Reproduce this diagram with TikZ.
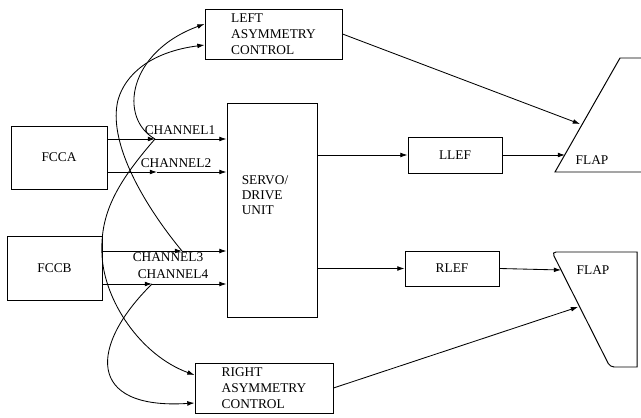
\documentclass[tikz,border=0pt]{standalone}
\usepackage{fontspec}
\setmainfont{Liberation Serif}
\usetikzlibrary{arrows.meta, calc}

\begin{document}
\begin{tikzpicture}[x=0.25mm, y=-0.25mm,
    box/.style={draw, line width=0.7pt, inner sep=0pt, align=left,
      font=\fontsize{9.5}{11.4}\selectfont},
    arr/.style={line width=0.6pt, -{Latex[length=1.8mm, width=1.2mm]}},
    lbl/.style={inner sep=0pt, align=left, font=\fontsize{9.5}{10.5}\selectfont}]
  \useasboundingbox (0,0) rectangle (641,418);

  % Rechner, Stellantrieb, Regler
  \node[box, minimum width=24mm, minimum height=15.75mm] (fcca) at (59,157.5) {FCCA};
  \node[box, minimum width=23.75mm, minimum height=16mm] (fccb) at (54.5,268) {FCCB};
  \node[box, minimum width=22.5mm, minimum height=53.5mm] (servo) at (272,210) {};
  \node[lbl] (servotxt) at (265,195) {SERVO/\\DRIVE\\UNIT};
  \node[box, minimum width=34.25mm, minimum height=12.5mm] (lasym) at (273.5,34) {LEFT\\ASYMMETRY\\CONTROL};
  \node[box, minimum width=34.5mm, minimum height=12.5mm] (rasym) at (264,388) {RIGHT\\ASYMMETRY\\CONTROL};
  \node[box, minimum width=23.5mm, minimum height=9mm] (llef) at (455,155) {LLEF};
  \node[box, minimum width=23.5mm, minimum height=8.75mm] (rlef) at (452,268.5) {RLEF};

  % Klappen
  \draw[line width=0.7pt] (641,58) -- (620,58) -- (555,172) -- (641,172);
  \draw[line width=0.7pt] (552,252) -- (637,252) -- (637,367) [rounded corners=1mm] -- (610,367) -- cycle;
  \node[lbl] (lflap) at (592,160) {FLAP};
  \node[lbl] (rflap) at (593,270) {FLAP};
  \coordinate (lf1) at (580,124);
  \coordinate (lf2) at (565,155);
  \coordinate (rf1) at (578,307);
  \coordinate (rf2) at (561,270);

  % Kanaele
  \coordinate (t1) at (155,139);
  \coordinate (t2) at (157,172);
  \coordinate (t3) at (182,251);
  \coordinate (t4) at (152,284);
  \draw[arr] (fcca.east |- t1) -- (t1);
  \draw[arr] (t1) -- (servo.west |- t1);
  \draw[arr] (fcca.east |- t2) -- (t2);
  \draw[arr] (t2) -- (servo.west |- t2);
  \draw[arr] (fccb.east |- t3) -- (t3);
  \draw[arr] (t3) -- (servo.west |- t3);
  \draw[arr] (fccb.east |- t4) -- (t4);
  \draw[arr] (t4) -- (servo.west |- t4);
  \node[lbl] (ch1) at (180,130) {CHANNEL1};
  \node[lbl] (ch2) at (176,163) {CHANNEL2};
  \node[lbl] (ch3) at (168,257.5) {CHANNEL3};
  \node[lbl] (ch4) at (173,274) {CHANNEL4};

  % Abgriffe zu den Asymmetrie-Reglern
  \draw[arr] (t1) .. controls (118,118) and (128,52) .. ($(lasym.west)+(0,-10)$);
  \draw[arr] (t3) .. controls (140,200) and (108,140) .. (118,100)
    .. controls (125,75) and (150,52) .. ($(lasym.west)+(0,11)$);
  \draw[arr] (t1) .. controls (115,185) and (100,215) .. (102,255)
    .. controls (104,300) and (140,355) .. ($(rasym.west)+(0,-13)$);
  \draw[arr] (t4) .. controls (90,345) and (85,410) .. ($(rasym.west)+(0,15)$);

  % Ausgaenge
  \draw[arr] (servo.east |- llef) -- (llef.west);
  \draw[arr] (servo.east |- rlef) -- (rlef.west);
  \draw[arr] (llef.east) -- (lf2);
  \draw[arr] (rlef.east) -- (rf2);
  \draw[arr] (lasym.east) -- (lf1);
  \draw[arr] (rasym.east) -- (rf1);
\end{tikzpicture}
\end{document}
